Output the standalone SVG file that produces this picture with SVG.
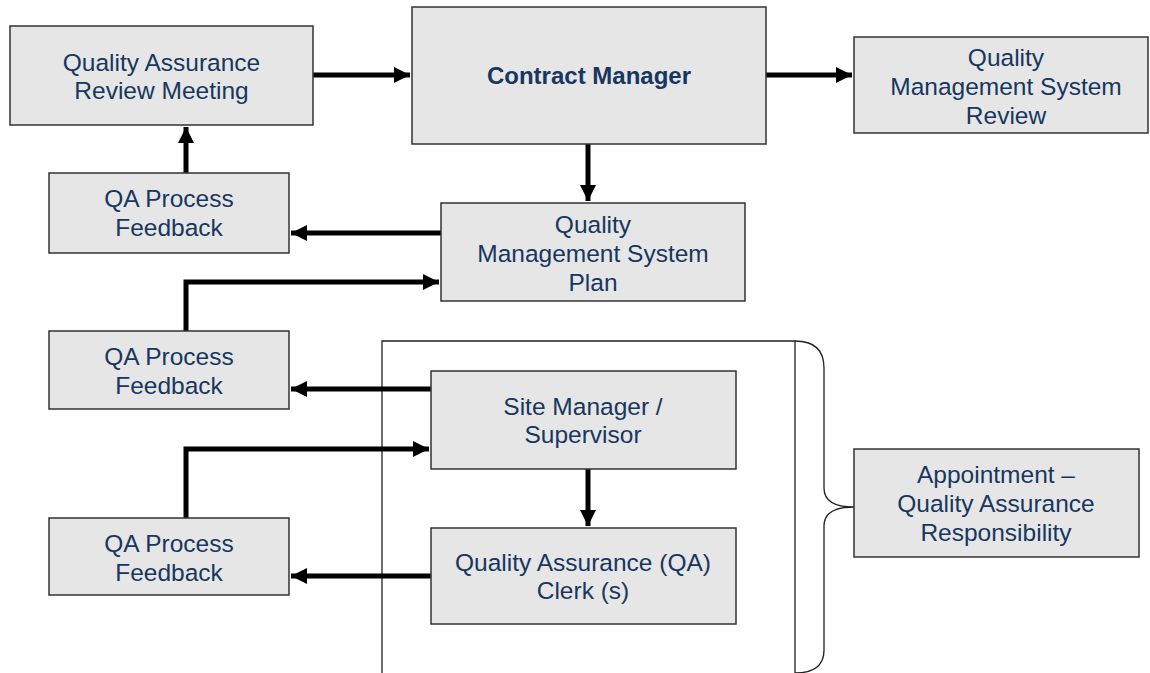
<svg xmlns="http://www.w3.org/2000/svg" width="1150" height="673" viewBox="0 0 1150 673">
<defs>
<marker id="ah" viewBox="0 0 10 10" refX="10" refY="5" markerWidth="3.2" markerHeight="3.5" markerUnits="strokeWidth" orient="auto">
<path d="M0,0 L10,5 L0,10 Z" fill="#000"/>
</marker>
<style>
.box{fill:#e6e6e6;stroke:#333;stroke-width:1.5}
.t{font-family:"Liberation Sans",Arial,sans-serif;font-size:24.5px;fill:#17375e;text-anchor:middle}
.b{font-weight:bold;font-size:24px}
.c{fill:none;stroke:#000;stroke-width:5;marker-end:url(#ah)}
.thin{fill:none;stroke:#222;stroke-width:1.3}
</style>
</defs>
<rect width="1150" height="673" fill="#fff"/>
<g id="group-frame">
<path class="thin" d="M382,673 V341 H795 V673"/>
<path class="thin" d="M795,341 C815,341 824,350 824,368 V488 C824,503 838,507 854,507 C838,507 824,511 824,526 V650 C824,665 815,673 795,673"/>
</g>
<g id="connectors">
<path class="c" d="M313,75 H410"/>
<path class="c" d="M766,75 H852"/>
<path class="c" d="M588,144 V201"/>
<path class="c" d="M441,233 H291"/>
<path class="c" d="M186,173 V127"/>
<path class="c" d="M186,331 V282 H439"/>
<path class="c" d="M431,389 H291"/>
<path class="c" d="M186,518 V449 H429"/>
<path class="c" d="M588,469 V526"/>
<path class="c" d="M431,576 H291"/>
</g>
<g id="qa-review-meeting">
<rect class="box" x="10" y="26" width="303" height="99"/>
<text class="t" x="161.5" y="71">Quality Assurance</text>
<text class="t" x="161.5" y="99">Review Meeting</text>
</g>
<g id="contract-manager">
<rect class="box" x="412" y="7" width="354" height="137"/>
<text class="t b" x="589" y="84">Contract Manager</text>
</g>
<g id="qms-review">
<rect class="box" x="854" y="37" width="294" height="96"/>
<text class="t" x="1006" y="66">Quality</text>
<text class="t" x="1006" y="95">Management System</text>
<text class="t" x="1006" y="124">Review</text>
</g>
<g id="qa-feedback-1">
<rect class="box" x="49" y="173" width="240" height="80"/>
<text class="t" x="169" y="207">QA Process</text>
<text class="t" x="169" y="236">Feedback</text>
</g>
<g id="qms-plan">
<rect class="box" x="441" y="203" width="304" height="98"/>
<text class="t" x="593" y="233">Quality</text>
<text class="t" x="593" y="262">Management System</text>
<text class="t" x="593" y="291">Plan</text>
</g>
<g id="qa-feedback-2">
<rect class="box" x="49" y="331" width="240" height="78"/>
<text class="t" x="169" y="365">QA Process</text>
<text class="t" x="169" y="394">Feedback</text>
</g>
<g id="site-manager">
<rect class="box" x="431" y="371" width="305" height="98"/>
<text class="t" x="583" y="415">Site Manager /</text>
<text class="t" x="583" y="443">Supervisor</text>
</g>
<g id="qa-feedback-3">
<rect class="box" x="49" y="518" width="240" height="77"/>
<text class="t" x="169" y="552">QA Process</text>
<text class="t" x="169" y="581">Feedback</text>
</g>
<g id="qa-clerk">
<rect class="box" x="431" y="528" width="305" height="96"/>
<text class="t" x="583" y="571">Quality Assurance (QA)</text>
<text class="t" x="583" y="599">Clerk (s)</text>
</g>
<g id="appointment">
<rect class="box" x="854" y="449" width="285" height="108"/>
<text class="t" x="996" y="483">Appointment –</text>
<text class="t" x="996" y="512">Quality Assurance</text>
<text class="t" x="996" y="541">Responsibility</text>
</g>
</svg>
